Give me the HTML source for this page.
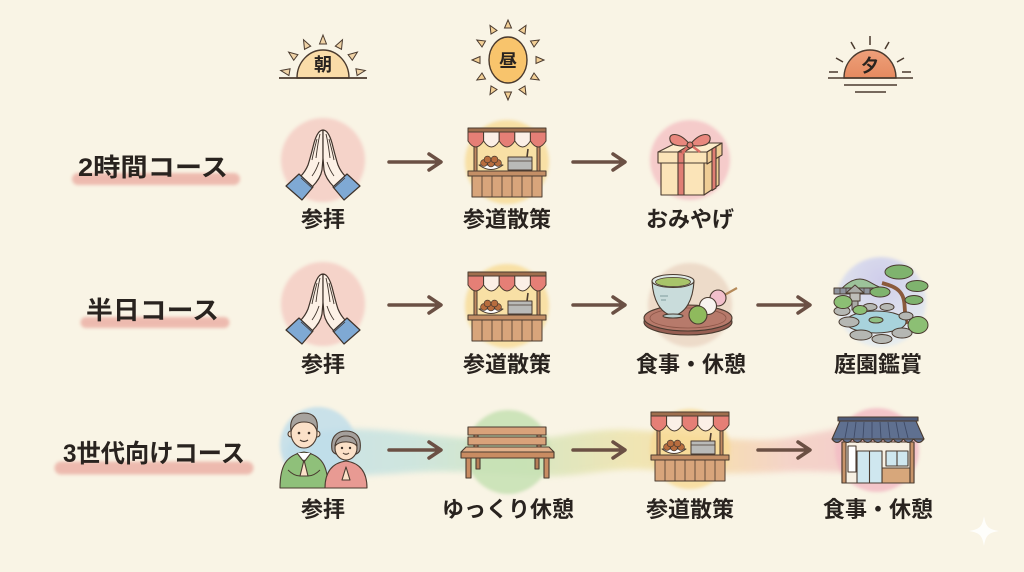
<!DOCTYPE html>
<html><head><meta charset="utf-8">
<style>
html,body{margin:0;padding:0;background:#f9f4e5;}
svg{display:block;}
text{font-family:"Liberation Sans","Noto Sans CJK JP",sans-serif;font-weight:bold;fill:#29231f;}
</style></head><body>
<svg width="1024" height="572" viewBox="0 0 1024 572" xmlns="http://www.w3.org/2000/svg">
<defs>
 <filter id="soft" x="-20%" y="-20%" width="140%" height="140%"><feGaussianBlur stdDeviation="1.6"/></filter>
 <filter id="soft3" x="-10%" y="-60%" width="120%" height="220%"><feGaussianBlur stdDeviation="3"/></filter>
 <linearGradient id="band" x1="285" y1="0" x2="915" y2="0" gradientUnits="userSpaceOnUse">
   <stop offset="0" stop-color="#b8dbe9"/>
   <stop offset="0.2" stop-color="#bde0dc"/>
   <stop offset="0.36" stop-color="#c7e2b8"/>
   <stop offset="0.55" stop-color="#ece0a0"/>
   <stop offset="0.66" stop-color="#f5d896"/>
   <stop offset="0.8" stop-color="#f3c6bd"/>
   <stop offset="1" stop-color="#f0bac3"/>
 </linearGradient>
 <radialGradient id="gardenBg" cx="0.5" cy="0.25" r="0.7">
   <stop offset="0" stop-color="#cfcdea"/>
   <stop offset="1" stop-color="#e6ecee"/>
 </radialGradient>
 <linearGradient id="sunset" x1="0" y1="0" x2="0" y2="1">
   <stop offset="0" stop-color="#eea07a"/>
   <stop offset="1" stop-color="#e58a60"/>
 </linearGradient>

 <g id="pray">
  <g id="halfhand" stroke="#3e322a" stroke-width="1.2" stroke-linejoin="round">
   <path d="M0,-30 C-4,-30 -7,-24 -9,-17 C-11,-9 -13,-1 -15,5 C-17,10 -20,14 -23,17 L-11,27 C-6,22 -2,16 -1,10 L0,-2 Z" fill="#fdf1e6"/>
   <path d="M-3,-26 C-5,-18 -6,-10 -7,-2 M-6,-21 C-8,-13 -10,-6 -11,0 M-4,2 C-6,8 -8,12 -11,16" fill="none" stroke-width="0.9"/>
   <path d="M-24,14 L-10,27 L-21,40 L-37,26 Z" fill="#7fa9d4"/>
   <path d="M-22,18 L-11,28" fill="none" stroke-width="0.8"/>
  </g>
  <use href="#halfhand" transform="scale(-1,1)"/>
 </g>

 <g id="stall" stroke="#4a3b30" stroke-width="1" stroke-linejoin="round">
  <rect x="-33" y="-20" width="3" height="29" fill="#c08a62"/>
  <rect x="30" y="-20" width="3" height="29" fill="#c08a62"/>
  <path d="M-39,-31 L-23.4,-31 L-23.4,-22 Q-31.2,-10 -39,-22 Z" fill="#e57f76"/>
  <path d="M-23.4,-31 L-7.8,-31 L-7.8,-22 Q-15.6,-10 -23.4,-22 Z" fill="#fbefe6"/>
  <path d="M-7.8,-31 L7.8,-31 L7.8,-22 Q0,-10 -7.8,-22 Z" fill="#e57f76"/>
  <path d="M7.8,-31 L23.4,-31 L23.4,-22 Q15.6,-10 7.8,-22 Z" fill="#fbefe6"/>
  <path d="M23.4,-31 L39,-31 L39,-22 Q31.2,-10 23.4,-22 Z" fill="#e57f76"/>
  <rect x="-39" y="-35" width="78" height="4" fill="#a06f4e"/>
  <path d="M-28,2 Q-16,11 -4,2 Z" fill="#fff"/>
  <g fill="#b86d3e" stroke-width="0.7">
   <circle cx="-23" cy="0" r="3.4"/><circle cx="-16" cy="0.5" r="3.4"/><circle cx="-9" cy="0" r="3.4"/>
   <circle cx="-19.5" cy="-3.5" r="3.4"/><circle cx="-12.5" cy="-3.5" r="3.4"/>
  </g>
  <rect x="1" y="-6" width="24" height="13" fill="#b9bab8"/>
  <path d="M1,-2 L25,-2" fill="none" stroke-width="0.8"/>
  <path d="M20,-6 L21,-14" fill="none" stroke-width="1.6"/>
  <rect x="-39" y="8" width="78" height="5" fill="#c48f66"/>
  <rect x="-35" y="13" width="70" height="21" fill="#d8a57b"/>
  <path d="M-25,13 V34 M-15,13 V34 M-5,13 V34 M5,13 V34 M15,13 V34 M25,13 V34" stroke-width="0.8" fill="none"/>
 </g>
</defs>

<!-- suns -->
<g stroke="#4a3a2e" stroke-width="1">
 <path d="M297,78 A26,28 0 0 1 349,78 Z" fill="#fadca8" stroke-width="1.4"/>
 <line x1="279" y1="78" x2="367" y2="78" stroke-width="1.8"/>
 <g fill="#f0d3a6">
  <polygon points="365.3,70.5 357.1,75.6 355.9,68.7"/>
  <polygon points="357.4,52.1 352.3,60.3 348.1,54.7"/>
  <polygon points="342.5,39.7 341.5,49.3 335.3,46.1"/>
  <polygon points="323,35 326.5,44 319.5,44"/>
  <polygon points="303.5,39.7 310.7,46.1 304.5,49.3"/>
  <polygon points="288.6,52.1 297.9,54.7 293.7,60.3"/>
  <polygon points="280.7,70.5 290.1,68.7 288.9,75.6"/>
 </g>
 <ellipse cx="508" cy="60" rx="19" ry="23" fill="#f8c46c" stroke-width="1.4"/>
 <g fill="#f2cf95">
  <polygon points="544,60 536,63.5 536,56.5"/>
  <polygon points="539.2,40 534,47 530.5,41"/>
  <polygon points="526,25.4 525,34 519,30.5"/>
  <polygon points="508,20 511.5,28 504.5,28"/>
  <polygon points="490,25.4 497,30.5 491,34"/>
  <polygon points="476.8,40 485.5,41 482,47"/>
  <polygon points="472,60 480,56.5 480,63.5"/>
  <polygon points="476.8,80 482,73 485.5,79"/>
  <polygon points="490,94.6 491,86 497,89.5"/>
  <polygon points="508,100 504.5,92 511.5,92"/>
  <polygon points="526,94.6 519,89.5 525,86"/>
  <polygon points="539.2,80 530.5,79 534,73"/>
 </g>
 <path d="M844,78 A26,28 0 0 1 896,78 Z" fill="url(#sunset)" stroke-width="1.4"/>
 <g stroke-width="1.5" fill="none">
  <line x1="828" y1="78" x2="913" y2="78"/>
  <line x1="844" y1="85" x2="897" y2="85"/>
  <line x1="855" y1="92" x2="886" y2="92"/>
  <line x1="902" y1="72" x2="911" y2="72"/>
  <line x1="829" y1="72" x2="838" y2="72"/>
  <line x1="897" y1="62" x2="904" y2="58"/>
  <line x1="843" y1="62" x2="836" y2="58"/>
  <line x1="885" y1="49" x2="889" y2="42"/>
  <line x1="855" y1="49" x2="851" y2="42"/>
  <line x1="870" y1="45" x2="870" y2="36"/>
 </g>
</g>
<text x="323" y="71" font-size="18" text-anchor="middle">朝</text>
<text x="508" y="67" font-size="18" text-anchor="middle">昼</text>
<text x="870" y="72" font-size="18" text-anchor="middle">夕</text>

<!-- row title highlight bands -->
<g stroke="#ebb1a6" stroke-linecap="round" opacity="0.85" filter="url(#soft)">
 <line x1="78" y1="179" x2="234" y2="179" stroke-width="12"/>
 <line x1="86" y1="322.5" x2="224" y2="322.5" stroke-width="11"/>
 <line x1="61" y1="468" x2="247" y2="468" stroke-width="13"/>
</g>
<text x="78" y="176" font-size="25" textLength="150" lengthAdjust="spacingAndGlyphs">2時間コース</text>
<text x="86" y="319" font-size="25" textLength="133" lengthAdjust="spacingAndGlyphs">半日コース</text>
<text x="63" y="462" font-size="25" textLength="182" lengthAdjust="spacingAndGlyphs">3世代向けコース</text>

<!-- row 3 watercolor band -->
<path d="M292,440 C325,426 362,428 400,432 C440,436 475,440 515,440 C555,440 585,428 630,430 C675,432 715,440 760,440 C800,440 830,426 872,426 C890,426 902,432 906,445 C908,460 902,470 885,472 C850,474 815,470 780,472 C740,474 700,474 652,470 C612,466 580,478 540,476 C500,474 460,470 420,472 C380,474 330,480 300,472 C285,466 282,450 292,440 Z" fill="url(#band)" opacity="0.7" filter="url(#soft3)"/>

<!-- watercolor circles -->
<g filter="url(#soft)">
 <circle cx="323" cy="160" r="42" fill="#f4cdc4" opacity="0.85"/>
 <circle cx="507" cy="162" r="42" fill="#f8db95" opacity="0.8"/>
 <circle cx="690" cy="160" r="40" fill="#f5c3c6" opacity="0.85"/>
 <circle cx="323" cy="304" r="42" fill="#f4cdc4" opacity="0.85"/>
 <circle cx="507" cy="306" r="42" fill="#f8db95" opacity="0.8"/>
 <circle cx="690" cy="305" r="42" fill="#ebd6c4" opacity="0.85"/>
 <circle cx="881" cy="302" r="45" fill="url(#gardenBg)"/>
 <circle cx="318" cy="445" r="38" fill="#bddcea" opacity="0.8"/>
 <circle cx="508" cy="452" r="42" fill="#c6e0b3" opacity="0.85"/>
 <circle cx="690" cy="449" r="40" fill="#f7d993" opacity="0.8"/>
 <circle cx="877" cy="450" r="42" fill="#f2bcc4" opacity="0.85"/>
</g>

<!-- arrows -->
<g stroke="#6b5044" stroke-width="3.5" fill="none" stroke-linecap="round" stroke-linejoin="round">
 <path d="M389,162 H440 M429,154 L441,162 L429,170"/>
 <path d="M573,162 H624 M613,154 L625,162 L613,170"/>
 <path d="M389,305 H440 M429,297 L441,305 L429,313"/>
 <path d="M573,305 H624 M613,297 L625,305 L613,313"/>
 <path d="M758,305 H809 M798,297 L810,305 L798,313"/>
 <path d="M389,450 H440 M429,442 L441,450 L429,458"/>
 <path d="M573,450 H624 M613,442 L625,450 L613,458"/>
 <path d="M758,450 H809 M798,442 L810,450 L798,458"/>
</g>

<!-- icons row 1 -->
<use href="#pray" transform="translate(323,160)"/>
<use href="#stall" transform="translate(507,163)"/>
<g stroke="#4a3b30" stroke-width="1.1" stroke-linejoin="round">
 <path d="M704,163 L719,155 L719,185 L704,195 Z" fill="#efcd96"/>
 <rect x="661" y="163" width="43" height="32" fill="#fbe4b8"/>
 <rect x="678" y="163" width="6" height="32" fill="#e07e74"/>
 <path d="M658,152 L676,143 L722,143 L707,152 Z" fill="#fdeccb"/>
 <path d="M707,152 L722,143 L722,155 L707,164 Z" fill="#efcd96"/>
 <rect x="658" y="152" width="49" height="11" fill="#fbe4b8"/>
 <rect x="678" y="152" width="6" height="11" fill="#e07e74"/>
 <path d="M678,152 L684,152 L699,143 L693,143 Z" fill="#e07e74"/>
 <path d="M712,149 L716,146.5 L716,188 L712,190.5 Z" fill="#e07e74"/>
 <path d="M690,145 C681,132 668,132 670,140 C671,146 682,147 690,145 Z" fill="#e8877d"/>
 <path d="M690,145 C699,132 712,132 710,140 C709,146 698,147 690,145 Z" fill="#e8877d"/>
 <path d="M688,146 L682,154 M692,146 L700,152" fill="none" stroke="#d96f66" stroke-width="2.5"/>
 <circle cx="690" cy="145" r="3" fill="#e07e74"/>
</g>

<!-- icons row 2 -->
<use href="#pray" transform="translate(323,304)"/>
<use href="#stall" transform="translate(507,307)"/>
<g stroke="#4a3b30" stroke-width="1.1" stroke-linejoin="round">
 <ellipse cx="688" cy="322" rx="44" ry="13" fill="#975e52"/>
 <ellipse cx="688" cy="318" rx="44" ry="13" fill="#b77a6b"/>
 <ellipse cx="688" cy="318" rx="38" ry="10" fill="none" stroke="#8d5648" stroke-width="0.8"/>
 <path d="M652,281 C653,300 660,313 673,316 C686,313 693,300 694,281 Z" fill="#c9dcdb"/>
 <ellipse cx="673" cy="316" rx="10" ry="2" fill="#b9cfce"/>
 <ellipse cx="673" cy="281" rx="21" ry="6.5" fill="#dfe9e6"/>
 <ellipse cx="673" cy="282" rx="17.5" ry="4.6" fill="#a8c46a" stroke-width="0.8"/>
 <path d="M660,296 H668 M661,300 H666" stroke="#7f9b9c" stroke-width="0.9" fill="none"/>
 <path d="M712,302 L737,288" stroke="#b58a5a" stroke-width="2.2" fill="none"/>
 <circle cx="718" cy="298" r="8" fill="#f2bfcb"/>
 <circle cx="708" cy="306" r="8.5" fill="#f8f3ef"/>
 <circle cx="698" cy="315" r="9" fill="#8fba5d"/>
</g>
<g stroke="#4a3b30" stroke-width="1" stroke-linejoin="round">
 <path d="M836,294 C845,285 851,279 860,279 C869,279 874,287 886,289 L886,294 Z" fill="#9cc29a"/>
 <rect x="834" y="288" width="52" height="6" fill="#8e939d"/>
 <path d="M840,288 V294 M846,288 V294 M852,288 V294 M858,288 V294 M864,288 V294 M870,288 V294 M876,288 V294 M882,288 V294" stroke-width="0.7" fill="none"/>
 <polygon points="846,293 855,285 864,293" fill="#a9aaa6"/>
 <rect x="850" y="293" width="10" height="8" fill="#bdbdb8"/>
 <rect x="852" y="301" width="6" height="9" fill="#a9aaa6"/>
 <path d="M907,324 C903,311 907,300 900,292 C896,287 889,285 882,283" stroke="#8b5a3c" stroke-width="3.8" fill="none"/>
 <ellipse cx="899" cy="272" rx="14" ry="7" fill="#7fb36e"/>
 <ellipse cx="917" cy="286" rx="11" ry="5.5" fill="#7fb36e"/>
 <ellipse cx="914" cy="300" rx="9" ry="4.5" fill="#7fb36e"/>
 <ellipse cx="880" cy="292" rx="10" ry="5" fill="#7fb36e"/>
 <ellipse cx="876" cy="322" rx="30" ry="11" fill="#a8d3dc"/>
 <ellipse cx="876" cy="320" rx="7" ry="3" fill="#8fbf82"/>
 <g fill="#b5b7b3">
  <ellipse cx="842" cy="311" rx="8" ry="4.5"/>
  <ellipse cx="849" cy="322" rx="10" ry="5"/>
  <ellipse cx="861" cy="335" rx="11" ry="5"/>
  <ellipse cx="882" cy="339" rx="10" ry="4.5"/>
  <ellipse cx="902" cy="333" rx="10" ry="5"/>
  <ellipse cx="906" cy="316" rx="7" ry="4"/>
  <ellipse cx="870" cy="307" rx="7" ry="3.5"/>
  <ellipse cx="887" cy="307" rx="7" ry="3.5"/>
 </g>
 <g fill="#8cbf74">
  <ellipse cx="843" cy="302" rx="9" ry="6.5"/>
  <ellipse cx="918" cy="325" rx="10" ry="8.5"/>
  <ellipse cx="860" cy="310" rx="7" ry="4.5"/>
 </g>
</g>

<!-- icons row 3 -->
<g stroke="#4a3b30" stroke-width="1.1" stroke-linejoin="round">
 <path d="M280,488 C280,466 286,455 304,452 C322,455 328,466 328,488 Z" fill="#8fc07a"/>
 <path d="M297,453 L304,462 L311,453" fill="#fff"/>
 <path d="M300,476 L304,460 L308,476 Z" fill="#fbe1c8"/>
 <path d="M288,470 C292,474 296,476 300,476 M320,470 C316,474 312,476 308,476" fill="none" stroke-width="0.9"/>
 <circle cx="291" cy="434" r="3" fill="#fbe1c8"/>
 <circle cx="317" cy="434" r="3" fill="#fbe1c8"/>
 <ellipse cx="304" cy="433" rx="13" ry="15" fill="#fbe1c8"/>
 <path d="M291,431 C289,417 297,413 304,413 C313,413 319,418 317,431 C315,425 312,422 304,422 C296,422 293,426 291,431 Z" fill="#a7a39e"/>
 <circle cx="299" cy="433" r="1.3" fill="#3e322a" stroke="none"/>
 <circle cx="309" cy="433" r="1.3" fill="#3e322a" stroke="none"/>
 <path d="M300,440 Q304,443 308,440" fill="none"/>
 <path d="M325,488 C325,472 332,463 346,461 C360,463 367,472 367,488 Z" fill="#e89a93"/>
 <path d="M342,480 L346,467 L350,480 Z" fill="#fbe1c8"/>
 <path d="M332,450 C330,436 338,431 346,431 C355,431 362,436 360,450 C358,458 334,458 332,450 Z" fill="#a5a09c"/>
 <ellipse cx="346" cy="448" rx="11" ry="12" fill="#fbe1c8"/>
 <path d="M335,446 C336,438 341,436 346,436 C352,436 357,439 357,446 C353,441 340,440 335,446 Z" fill="#a5a09c"/>
 <circle cx="342" cy="448" r="1.2" fill="#3e322a" stroke="none"/>
 <circle cx="350" cy="448" r="1.2" fill="#3e322a" stroke="none"/>
 <path d="M343,453 Q346,455.5 349,453" fill="none"/>
</g>
<g stroke="#4a3b30" stroke-width="1.1" stroke-linejoin="round">
 <rect x="474" y="427" width="4" height="24" fill="#c68d63"/>
 <rect x="537" y="427" width="4" height="24" fill="#c68d63"/>
 <rect x="468" y="427" width="78" height="8" fill="#d9a27a"/>
 <rect x="468" y="437" width="78" height="8" fill="#d9a27a"/>
 <rect x="476" y="458" width="4" height="11" fill="#b77e57"/>
 <rect x="535" y="458" width="4" height="11" fill="#b77e57"/>
 <path d="M466,447 L549,447 L554,452 L461,452 Z" fill="#e2b08a"/>
 <rect x="461" y="452" width="93" height="6" fill="#c98c62"/>
 <rect x="466" y="458" width="5" height="20" fill="#c98c62"/>
 <rect x="544" y="458" width="5" height="20" fill="#c98c62"/>
</g>
<use href="#stall" transform="translate(690,447)"/>
<g stroke="#4a3b30" stroke-width="1.1" stroke-linejoin="round">
 <rect x="842" y="442" width="72" height="41" fill="#f7f0e3"/>
 <rect x="882" y="468" width="28" height="15" fill="#d7a77b"/>
 <rect x="857" y="451" width="25" height="32" fill="#cfe7ef"/>
 <line x1="869.5" y1="451" x2="869.5" y2="483"/>
 <rect x="886" y="451" width="22" height="15" fill="#cfe7ef"/>
 <line x1="897" y1="451" x2="897" y2="466"/>
 <rect x="842" y="442" width="4" height="41" fill="#c8946a"/>
 <rect x="910" y="442" width="4" height="41" fill="#c8946a"/>
 <rect x="848" y="446" width="8" height="26" fill="#fff"/>
 <path d="M840,421 L916,421 L924,439 L832,439 Z" fill="#5f7090"/>
 <path d="M832,439 Q837,446 842.2,439 Q847.3,446 852.4,439 Q857.5,446 862.6,439 Q867.7,446 872.8,439 Q877.9,446 883,439 Q888.1,446 893.2,439 Q898.3,446 903.4,439 Q908.5,446 913.6,439 Q918.8,446 924,439 Z" fill="#5f7090"/>
 <path d="M848,422 L845,438 M856,422 L854,438 M864,422 L863,438 M872,422 L872,438 M880,422 L881,438 M888,422 L890,438 M896,422 L899,438 M904,422 L908,438" stroke="#3e4a66" stroke-width="0.9" fill="none"/>
 <rect x="838" y="417" width="80" height="4" fill="#4d5a78"/>
</g>

<!-- node labels -->
<g font-size="22" text-anchor="middle">
 <text x="323" y="227">参拝</text>
 <text x="507" y="227">参道散策</text>
 <text x="690" y="227">おみやげ</text>
 <text x="323" y="372">参拝</text>
 <text x="507" y="372">参道散策</text>
 <text x="691" y="372">食事・休憩</text>
 <text x="878" y="372">庭園鑑賞</text>
 <text x="323" y="517">参拝</text>
 <text x="508" y="517">ゆっくり休憩</text>
 <text x="690" y="517">参道散策</text>
 <text x="878" y="517">食事・休憩</text>
</g>

<!-- sparkle -->
<path d="M984,516 C986,527 988,529 999,531 C988,533 986,535 984,546 C982,535 980,533 969,531 C980,529 982,527 984,516 Z" fill="#ffffff" opacity="0.85"/>
</svg>
</body></html>
